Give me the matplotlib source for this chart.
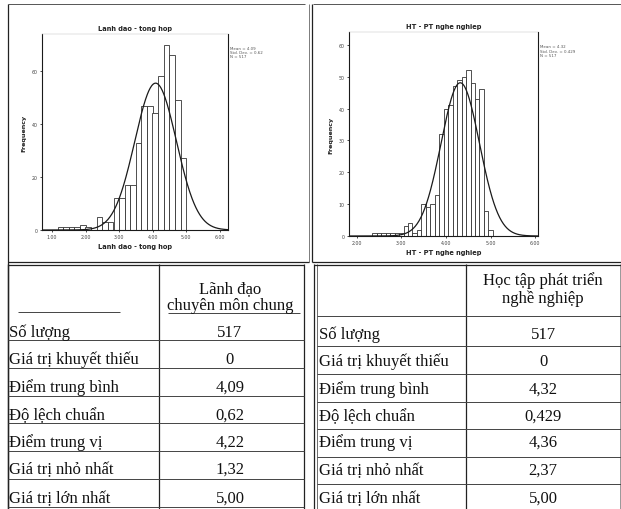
import numpy as np
import matplotlib
matplotlib.use("Agg")
import matplotlib.pyplot as plt

# ---------------- data ----------------
left_title = "Lanh dao - tong hop"
left_centers = [1.25, 1.42, 1.58, 1.75, 1.92, 2.08, 2.25, 2.42, 2.58, 2.75, 2.92, 3.08,
                3.25, 3.42, 3.58, 3.75, 3.92, 4.08, 4.25, 4.42, 4.58, 4.75, 4.92]
left_counts = [1, 1, 1, 1, 2, 1, 0, 5, 3, 3, 12, 12,
               17, 17, 33, 47, 47, 44, 58, 70, 66, 49, 27]
left_mean, left_sd, left_n = 4.09, 0.62, 517
left_xticks = [1.0, 2.0, 3.0, 4.0, 5.0, 6.0]
left_yticks = [0, 20, 40, 60]

right_title = "HT - PT nghe nghiep"
right_centers = [2.4, 2.5, 2.6, 2.7, 2.8, 2.9, 3.0, 3.1, 3.2, 3.3, 3.4, 3.5, 3.6, 3.7,
                 3.8, 3.9, 4.0, 4.1, 4.2, 4.3, 4.4, 4.5, 4.6, 4.7, 4.8, 4.9, 5.0]
right_counts = [1, 1, 1, 1, 1, 1, 1, 3, 4, 1, 2, 10, 9, 10,
                13, 32, 40, 41, 47, 49, 50, 52, 48, 43, 46, 8, 2]
right_mean, right_sd, right_n = 4.32, 0.429, 517
right_xticks = [2.0, 3.0, 4.0, 5.0, 6.0]
right_yticks = [0, 10, 20, 30, 40, 50, 60]

row_labels = ["Số lượng", "Giá trị khuyết thiếu", "Điểm trung bình", "Độ lệch chuẩn",
              "Điểm trung vị", "Giá trị nhỏ nhất", "Giá trị lớn nhất"]
left_header = ["Lãnh đạo", "chuyên môn chung"]
left_values = ["517", "0", "4,09", "0,62", "4,22", "1,32", "5,00"]
right_header = ["Học tập phát triển", "nghề nghiệp"]
right_values = ["517", "0", "4,32", "0,429", "4,36", "2,37", "5,00"]

# ---------------- figure ----------------
W, H = 621, 510
fig = plt.figure(figsize=(W / 100, H / 100), dpi=100)
fig.patch.set_facecolor("white")

def px_axes(x0, y0, x1, y1):
    return fig.add_axes([x0 / W, (H - y1) / H, (x1 - x0) / W, (y1 - y0) / H])

ink = "#1a1a1a"

def histo(ax, centers, counts, bw, mean, sd, n, xlim, ylim, xticks, yticks, title, stats):
    ax.bar(centers, counts, width=bw, facecolor="white", edgecolor="#333333", linewidth=0.6)
    xs = np.linspace(xlim[0], xlim[1], 400)
    ys = n * bw * np.exp(-0.5 * ((xs - mean) / sd) ** 2) / (sd * np.sqrt(2 * np.pi))
    ax.plot(xs, ys, color=ink, lw=0.9)
    ax.set_xlim(*xlim)
    ax.set_ylim(*ylim)
    ax.set_xticks(xticks)
    ax.set_xticklabels([f"{t:.2f}" for t in xticks], fontsize=3.4, color="#444444")
    ax.set_yticks(yticks)
    ax.set_yticklabels([str(t) for t in yticks], fontsize=3.4, color="#444444")
    ax.tick_params(length=1.5, width=0.5, pad=1.5, direction="out")
    ax.spines["top"].set_linewidth(0.3)
    ax.spines["top"].set_color("#bbbbbb")
    for s in ["left", "right", "bottom"]:
        ax.spines[s].set_linewidth(0.8)
        ax.spines[s].set_color(ink)
    ax.set_title(title, fontsize=4.8, fontweight="bold", pad=3, color="#222222")
    ax.set_xlabel(title, fontsize=4.8, fontweight="bold", labelpad=3, color="#222222")
    ax.set_ylabel("Frequency", fontsize=4.6, fontweight="bold", labelpad=4, color="#222222")
    ax.text(1.01, 0.94, stats, transform=ax.transAxes, fontsize=2.9, va="top", ha="left",
            color="#555555", linespacing=1.1)

axL = px_axes(42, 35, 228, 231)
histo(axL, left_centers, left_counts, 1 / 6, left_mean, left_sd, left_n,
      (0.70, 6.25), (0, 74), left_xticks, left_yticks, left_title,
      f"Mean = {left_mean:.2f}\nStd. Dev. = {left_sd:.2f}\nN = {left_n}")

axR = px_axes(349, 33, 538, 237)
histo(axR, right_centers, right_counts, 0.1, right_mean, right_sd, right_n,
      (1.83, 6.06), (0, 64), right_xticks, right_yticks, right_title,
      f"Mean = {right_mean:.2f}\nStd. Dev. = {right_sd:.3f}\nN = {right_n}")

# ---------------- overlay for page lines and tables ----------------
ov = fig.add_axes([0, 0, 1, 1])
ov.set_xlim(0, W)
ov.set_ylim(H, 0)
ov.axis("off")

def hline(y, x0, x1, lw=0.9, c="#222222"):
    ov.plot([x0, x1], [y, y], color=c, lw=lw, solid_capstyle="butt")

def vline(x, y0, y1, lw=0.9, c="#222222"):
    ov.plot([x, x], [y0, y1], color=c, lw=lw, solid_capstyle="butt")

# outer frame of chart cells
hline(5, 8, 305, lw=0.7, c="#555555")
hline(5, 313, 621, lw=0.7, c="#555555")
vline(8, 5, 510, lw=0.9)
vline(309, 5, 263, lw=0.6, c="#666666")
vline(312, 5, 263, lw=0.9)
hline(263, 8, 309, lw=0.9)
hline(263, 312, 621, lw=0.9)

# left table
vline(8, 265, 510, lw=1.0)
vline(159, 265, 510, lw=0.9)
vline(304, 265, 510, lw=0.9)
hline(266, 8, 304, lw=0.9)
hline(313, 18, 120, lw=0.7, c="#444444")
hline(314, 168, 300, lw=0.7, c="#444444")
for y in [341, 369, 397, 424, 452, 480]:
    hline(y, 8, 304, lw=0.7, c="#444444")
hline(508, 8, 304, lw=0.7, c="#444444")

# right table
vline(314, 265, 510, lw=0.9)
vline(317, 265, 510, lw=0.6, c="#555555")
vline(466, 265, 510, lw=0.9)
vline(620, 265, 510, lw=0.6, c="#888888")
hline(266, 314, 621, lw=0.9)
hline(317, 317, 621, lw=0.7, c="#444444")
for y in [347, 375, 403, 430, 458, 485]:
    hline(y, 317, 621, lw=0.7, c="#444444")

serif = ["Liberation Serif", "DejaVu Serif"]
fs = 12.0
tc = "#111111"

for txt, y in zip(left_header, [289, 306]):
    ov.text(230, y, txt, ha="center", va="center", fontsize=fs, family=serif, color=tc)
for txt, y in zip(right_header, [281, 299]):
    ov.text(543, y, txt, ha="center", va="center", fontsize=fs, family=serif, color=tc)

left_rows_y = [333, 360, 388, 416, 443, 470, 499]
right_rows_y = [335, 362, 390, 417, 443, 471, 499]
for lab, val, y in zip(row_labels, left_values, left_rows_y):
    ov.text(9, y, lab, ha="left", va="center", fontsize=fs, family=serif, color=tc)
    ov.text(230, y, val, ha="center", va="center", fontsize=fs, family=serif, color=tc)
for lab, val, y in zip(row_labels, right_values, right_rows_y):
    ov.text(319, y, lab, ha="left", va="center", fontsize=fs, family=serif, color=tc)
    ov.text(543, y, val, ha="center", va="center", fontsize=fs, family=serif, color=tc)

fig.savefig("out.png", dpi=100, facecolor="white")
